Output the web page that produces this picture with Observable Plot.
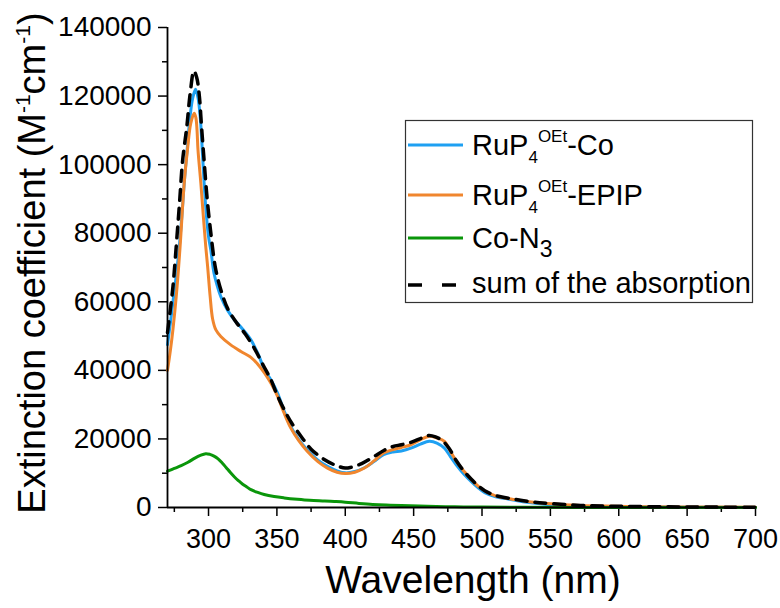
<!DOCTYPE html>
<html>
<head>
<meta charset="utf-8">
<script src="https://cdn.jsdelivr.net/npm/d3@7"></script>
<script src="https://cdn.jsdelivr.net/npm/@observablehq/plot@0.6"></script>
<style>
  html, body { margin: 0; padding: 0; background: #fff; }
  #chart { width: 780px; height: 608px; }
</style>
</head>
<body>
<div id="chart"></div>
<script>
// Tick values
const xMajor = [300, 350, 400, 450, 500, 550, 600, 650, 700];
const xMinor = [275, 325, 375, 425, 475, 525, 575, 625, 675];
const yMajor = [0, 20000, 40000, 60000, 80000, 100000, 120000, 140000];
const yMinor = [10000, 30000, 50000, 70000, 90000, 110000, 130000];

// Series: [wavelength (nm), extinction coefficient]
const ruCo = [[270,47500],[272,53500],[274,60000],[276.5,68000],[278.5,75500],[280.5,85000],[282.2,94500],[284.5,105000],[286.5,114000],[288.5,119500],[290.5,122000],[292.3,119500],[293.9,114000],[295.4,104500],[296.8,94500],[298.5,85000],[300,79000],[301.7,75000],[304,68300],[306.5,64500],[309,61500],[314,57500],[319,54700],[325,52000],[331,48900],[336,45000],[341,40200],[346,37000],[350.5,33400],[355,28500],[360,23700],[366,19800],[372,16900],[380,13800],[387,12000],[394,10700],[400,10100],[407,10500],[414,11600],[421,13400],[428,15400],[435,16200],[441,16500],[448,17300],[455,18500],[461.5,19300],[467,18800],[472.5,17300],[477,14800],[482,12000],[487,9600],[492,7600],[497,5800],[502,4300],[510,3100],[519,2500],[530,1700],[548,870],[572,380],[600,200],[650,80],[700,30]];

const ruEpip = [[270,40000],[272,45500],[274,52000],[276.5,62000],[279.2,76000],[282.2,94500],[284.6,104300],[287,112000],[289.5,115000],[290.7,113800],[291.6,110000],[292.3,104300],[294.4,94500],[296.2,85000],[298,76000],[299.3,70500],[301.2,61500],[303,55000],[305.4,51800],[309,49900],[316,47500],[323.7,45500],[331,43800],[336,41800],[341,39200],[346,36000],[350.5,32400],[355,27800],[360,23300],[366,19500],[372,16500],[380,13400],[387,11500],[394,10300],[400,9900],[407,10300],[414,11500],[421,13600],[428,15900],[435,16900],[441,17500],[448,18300],[455,19800],[461.5,20800],[467,20300],[472.5,19300],[477,16300],[482,13000],[487,10500],[492,8200],[497,6300],[502,4800],[510,3400],[524,2300],[536,1600],[548,1150],[572,580],[597,380],[620,250],[650,150],[700,80]];

const coN3 = [[270,10600],[275,11400],[280,12200],[285,13200],[290,14400],[294,15200],[298,15700],[301,15500],[304,15000],[307,14200],[310,13000],[313,11600],[316,10200],[319,8900],[322,7800],[325,6800],[328,6000],[331,5200],[336,4400],[340.7,3800],[348,3200],[355.4,2800],[365,2400],[374,2100],[385,1900],[392,1750],[400,1550],[410,1200],[420,900],[430,700],[441,550],[460,350],[480,200],[500,120],[530,60],[570,20],[620,5],[700,0]];

const sumAbs = [[270,51000],[272,57500],[274,64500],[277.3,81000],[279,90000],[281,101000],[284.1,111000],[286.6,120800],[289.3,127300],[291.3,125500],[293.1,120800],[295,110500],[296.8,101000],[299,90000],[301.7,80000],[305,70000],[309,63500],[314,58000],[320,54200],[327,50500],[333.4,46500],[340,41500],[345.6,37300],[350,33000],[355.4,28500],[361,24500],[367.6,20800],[375,17000],[384.6,14000],[393,12300],[400,11500],[404,11700],[412,12800],[420,14600],[428.5,16700],[435,17800],[441,18300],[448,19000],[455,20100],[461,21000],[466,20600],[471,19500],[476,17200],[481,13800],[486,11000],[492,8300],[497,6400],[502,4900],[510,3500],[524,2400],[536,1650],[548,1200],[572,600],[600,350],[650,150],[700,80]];

const seriesNames = ["RuP4OEt-Co", "RuP4OEt-EPIP", "Co-N3", "sum of the absorption"];
const colors = ["#1ea0f2", "#f0862e", "#0a960a", "#000000"];

const FONT = "'Liberation Sans', Arial, Helvetica, sans-serif";

const lineOpts = (color, extra = {}) => ({
  x: d => d[0], y: d => d[1], stroke: color, strokeWidth: 3, curve: "catmull-rom", ...extra
});

const svg = Plot.plot({
  width: 780,
  height: 608,
  marginLeft: 167,
  marginRight: 25,
  marginTop: 27,
  marginBottom: 101,
  style: { fontFamily: FONT, background: "#fff", color: "#000", overflow: "visible" },
  x: { domain: [270, 700], label: null },
  y: { domain: [0, 140000], label: null },
  marks: [
    Plot.axisX({ ticks: xMajor, tickSize: 9, tickPadding: 12, fontSize: 27, tickFormat: d3.format("d"), label: null, strokeWidth: 1.5 }),
    Plot.axisX({ ticks: xMinor, tickSize: 5, tickFormat: () => "", label: null, strokeWidth: 1.5 }),
    Plot.axisY({ ticks: yMajor, tickSize: 9, tickPadding: 7, fontSize: 28, tickFormat: d3.format("d"), label: null, strokeWidth: 1.5 }),
    Plot.axisY({ ticks: yMinor, tickSize: 5, tickFormat: () => "", label: null, strokeWidth: 1.5 }),
    Plot.line(ruCo, lineOpts(colors[0])),
    Plot.line(ruEpip, lineOpts(colors[1])),
    Plot.line(coN3, lineOpts(colors[2])),
    Plot.line(sumAbs, lineOpts(colors[3], { strokeWidth: 3.5, strokeDasharray: "11,8" })),
    Plot.ruleX([270], { y1: 0, y2: 140000, stroke: "#000", strokeWidth: 1.8 }),
    Plot.ruleY([0], { x1: 270, x2: 700, stroke: "#000", strokeWidth: 1.8 })
  ]
});

document.getElementById("chart").appendChild(svg);

const s = d3.select(svg);

// Axis titles
s.append("text")
  .attr("x", 473).attr("y", 593)
  .attr("text-anchor", "middle")
  .attr("font-family", FONT).attr("font-size", 39).attr("fill", "#000")
  .text("Wavelength (nm)");

const yt = s.append("text")
  .attr("transform", "translate(45,263) rotate(-90)")
  .attr("text-anchor", "middle")
  .attr("font-family", FONT).attr("font-size", 38).attr("fill", "#000");
yt.append("tspan").text("Extinction coefficient (M");
yt.append("tspan").attr("font-size", 21).attr("dy", -15).text("-1");
yt.append("tspan").attr("dy", 15).text("cm");
yt.append("tspan").attr("font-size", 21).attr("dy", -15).text("-1");
yt.append("tspan").attr("dy", 15).text(")");

// Legend
const lg = s.append("g").attr("font-family", FONT).attr("fill", "#000").attr("text-anchor", "start");
lg.append("rect").attr("x", 405.5).attr("y", 120.5).attr("width", 347).attr("height", 182)
  .attr("fill", "#fff").attr("stroke", "#333").attr("stroke-width", 1.2);

const lineY = [145, 195, 238, 285];
const textY = [155, 205, 248, 293];
seriesNames.forEach((name, i) => {
  const ln = lg.append("line").attr("x1", 408).attr("x2", 463).attr("y1", lineY[i]).attr("y2", lineY[i])
    .attr("stroke", colors[i]).attr("stroke-width", i === 3 ? 3.5 : 3);
  if (i === 3) ln.attr("stroke-dasharray", "14,20");
});

function ruLabel(y, suffix) {
  const t = lg.append("text").attr("x", 472).attr("y", y).attr("font-size", 29).attr("text-anchor", "start");
  t.append("tspan").text("RuP");
  t.append("tspan").attr("font-size", 17).attr("dy", 8).text("4");
  t.append("tspan").attr("font-size", 17).attr("dy", -21).text("OEt");
  t.append("tspan").attr("dy", 13).text(suffix);
}
ruLabel(textY[0], "-Co");
ruLabel(textY[1], "-EPIP");
{
  const t = lg.append("text").attr("x", 472).attr("y", textY[2]).attr("font-size", 29).attr("text-anchor", "start");
  t.append("tspan").text("Co-N");
  t.append("tspan").attr("font-size", 23).attr("dy", 9).text("3");
}
lg.append("text").attr("x", 472).attr("y", textY[3]).attr("font-size", 29).attr("text-anchor", "start").text("sum of the absorption");
</script>
</body>
</html>
